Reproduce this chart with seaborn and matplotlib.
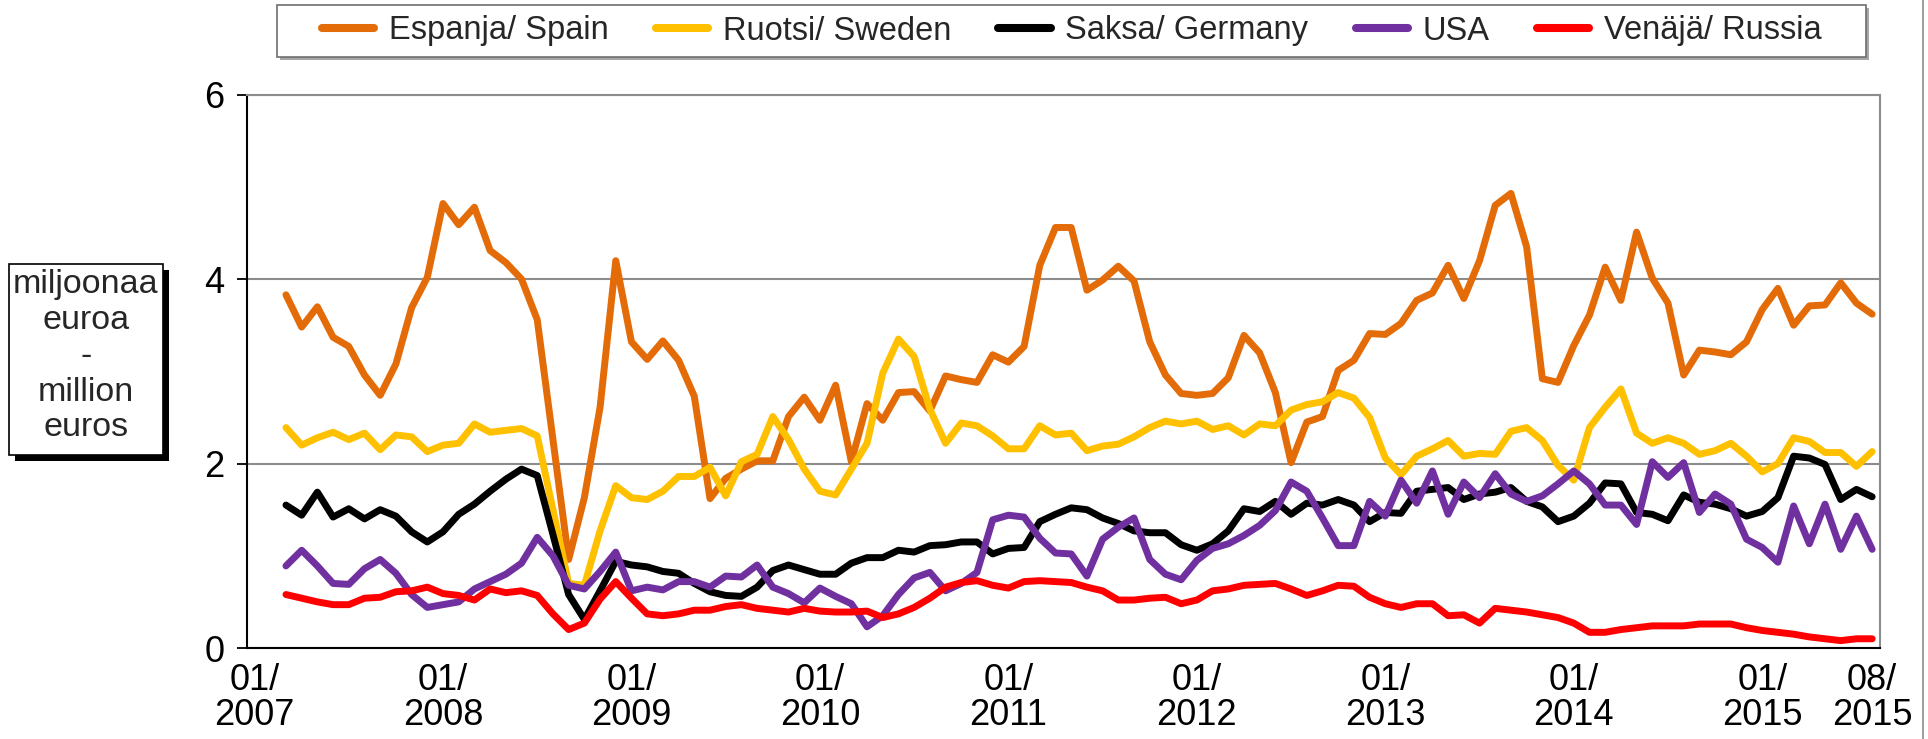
import numpy as np
import pandas as pd
import matplotlib
matplotlib.use("Agg")
import matplotlib.pyplot as plt
import seaborn as sns
from matplotlib.patches import Rectangle
from matplotlib.lines import Line2D

# ---------------- data (monthly, 03/2007 - 08/2015), million euros ----------------
start_month = "2007-03"
end_month = "2015-08"

countries = ["Espanja/ Spain", "Ruotsi/ Sweden", "Saksa/ Germany", "USA", "Venäjä/ Russia"]
colors = ["#E36C09", "#FFC000", "#000000", "#7030A0", "#FF0000"]

spain = [3.83, 3.48, 3.70, 3.37, 3.27, 2.96, 2.74, 3.08, 3.69, 4.02,
         4.82, 4.59, 4.78, 4.31, 4.18, 4.00, 3.56, 2.26, 0.96, 1.63,
         2.61, 4.20, 3.32, 3.13, 3.33, 3.12, 2.73, 1.62, 1.84, 1.94,
         2.03, 2.03, 2.51, 2.72, 2.47, 2.85, 2.02, 2.65, 2.47, 2.77,
         2.78, 2.57, 2.95, 2.91, 2.88, 3.18, 3.10, 3.27, 4.15, 4.56,
         4.56, 3.88, 3.99, 4.14, 3.98, 3.32, 2.96, 2.76, 2.74, 2.76,
         2.93, 3.39, 3.20, 2.77, 2.01, 2.45, 2.51, 3.01, 3.12, 3.41,
         3.40, 3.52, 3.77, 3.85, 4.15, 3.79, 4.20, 4.80, 4.93, 4.35,
         2.92, 2.88, 3.28, 3.61, 4.13, 3.77, 4.51, 4.01, 3.74, 2.96,
         3.23, 3.21, 3.18, 3.32, 3.67, 3.90, 3.50, 3.71, 3.72, 3.96,
         3.74, 3.62]

sweden = [2.39, 2.20, 2.28, 2.34, 2.26, 2.33, 2.15, 2.31, 2.29, 2.13,
          2.20, 2.22, 2.43, 2.34, 2.36, 2.38, 2.30, 1.50, 0.70, 0.68,
          1.27, 1.76, 1.63, 1.61, 1.70, 1.86, 1.86, 1.96, 1.65, 2.02,
          2.10, 2.51, 2.26, 1.94, 1.70, 1.66, 1.94, 2.22, 2.98, 3.35,
          3.16, 2.59, 2.22, 2.44, 2.41, 2.30, 2.16, 2.16, 2.41, 2.31,
          2.33, 2.14, 2.19, 2.21, 2.29, 2.39, 2.46, 2.43, 2.46, 2.37,
          2.41, 2.31, 2.43, 2.41, 2.58, 2.64, 2.67, 2.77, 2.71, 2.50,
          2.06, 1.88, 2.08, 2.16, 2.25, 2.08, 2.11, 2.10, 2.35, 2.39,
          2.25, 1.98, 1.82, 2.39, 2.61, 2.81, 2.33, 2.22, 2.28, 2.22,
          2.10, 2.14, 2.22, 2.08, 1.91, 2.00, 2.28, 2.24, 2.12, 2.12,
          1.97, 2.13]

germany = [1.55, 1.44, 1.69, 1.42, 1.51, 1.40, 1.50, 1.43, 1.26, 1.15,
           1.26, 1.45, 1.56, 1.70, 1.83, 1.94, 1.87, 1.23, 0.58, 0.31,
           0.62, 0.94, 0.90, 0.88, 0.83, 0.81, 0.70, 0.61, 0.57, 0.56,
           0.66, 0.84, 0.90, 0.85, 0.80, 0.80, 0.92, 0.98, 0.98, 1.06,
           1.04, 1.11, 1.12, 1.15, 1.15, 1.02, 1.08, 1.09, 1.37, 1.45,
           1.52, 1.50, 1.41, 1.35, 1.27, 1.25, 1.25, 1.12, 1.06, 1.13,
           1.27, 1.51, 1.48, 1.59, 1.45, 1.57, 1.55, 1.61, 1.55, 1.37,
           1.47, 1.46, 1.70, 1.72, 1.74, 1.61, 1.67, 1.69, 1.74, 1.59,
           1.53, 1.37, 1.43, 1.57, 1.79, 1.78, 1.47, 1.45, 1.38, 1.66,
           1.58, 1.56, 1.51, 1.43, 1.48, 1.63, 2.08, 2.06, 1.99, 1.61,
           1.72, 1.64]

usa = [0.89, 1.06, 0.89, 0.70, 0.69, 0.86, 0.96, 0.81, 0.58, 0.44,
       0.47, 0.50, 0.64, 0.72, 0.80, 0.92, 1.20, 1.00, 0.68, 0.64,
       0.83, 1.04, 0.62, 0.66, 0.63, 0.72, 0.72, 0.66, 0.78, 0.77,
       0.90, 0.66, 0.59, 0.49, 0.65, 0.56, 0.48, 0.23, 0.35, 0.58,
       0.76, 0.82, 0.62, 0.70, 0.82, 1.39, 1.44, 1.42, 1.19, 1.03,
       1.02, 0.78, 1.18, 1.31, 1.41, 0.96, 0.80, 0.74, 0.95, 1.08,
       1.13, 1.22, 1.33, 1.49, 1.80, 1.70, 1.41, 1.11, 1.11, 1.59,
       1.43, 1.82, 1.57, 1.92, 1.45, 1.80, 1.63, 1.89, 1.67, 1.59,
       1.65, 1.78, 1.92, 1.78, 1.55, 1.55, 1.34, 2.02, 1.85, 2.01,
       1.47, 1.67, 1.56, 1.18, 1.09, 0.93, 1.54, 1.13, 1.56, 1.07,
       1.43, 1.07]

russia = [0.58, 0.54, 0.50, 0.47, 0.47, 0.54, 0.55, 0.61, 0.62, 0.66,
          0.59, 0.57, 0.52, 0.64, 0.60, 0.62, 0.57, 0.37, 0.20, 0.27,
          0.53, 0.72, 0.54, 0.37, 0.35, 0.37, 0.41, 0.41, 0.45, 0.47,
          0.43, 0.41, 0.39, 0.43, 0.40, 0.39, 0.39, 0.40, 0.33, 0.37,
          0.44, 0.54, 0.66, 0.71, 0.73, 0.68, 0.65, 0.72, 0.73, 0.72,
          0.71, 0.66, 0.62, 0.52, 0.52, 0.54, 0.55, 0.48, 0.52, 0.62,
          0.64, 0.68, 0.69, 0.70, 0.64, 0.57, 0.62, 0.68, 0.67, 0.55,
          0.48, 0.44, 0.48, 0.48, 0.35, 0.36, 0.27, 0.43, 0.41, 0.39,
          0.36, 0.33, 0.27, 0.17, 0.17, 0.20, 0.22, 0.24, 0.24, 0.24,
          0.26, 0.26, 0.26, 0.22, 0.19, 0.17, 0.15, 0.12, 0.10, 0.08,
          0.10, 0.10]

tick_labels = ["01/\n2007", "01/\n2008", "01/\n2009", "01/\n2010", "01/\n2011",
               "01/\n2012", "01/\n2013", "01/\n2014", "01/\n2015", "08/\n2015"]
y_ticks = [0, 2, 4, 6]
ylabel_text = "miljoonaa\neuroa\n-\nmillion\neuros"

# ---------------- build table ----------------
periods = pd.period_range(start_month, end_month, freq="M")
base = pd.Period("2007-01", freq="M")
month_idx = np.array([(p - base).n for p in periods])

series = [spain, sweden, germany, usa, russia]
df = pd.concat([pd.DataFrame({"month": month_idx, "value": vals, "country": name})
                for name, vals in zip(countries, series)], ignore_index=True)

def label_to_idx(lbl):
    mm, yy = lbl.replace("\n", "").split("/")
    return (int(yy) - 2007) * 12 + int(mm) - 1

tick_pos = [label_to_idx(l) for l in tick_labels]

# ---------------- plot ----------------
sns.set_theme(style="white")
plt.rcParams['font.family'] = ['Liberation Sans', 'DejaVu Sans']

W, H = 1928, 739
fig = plt.figure(figsize=(W / 100, H / 100), dpi=100)
ax_l, ax_r, ax_t, ax_b = 246.7, 1880, 94.7, 648
ax = fig.add_axes([ax_l / W, 1 - ax_b / H, (ax_r - ax_l) / W, (ax_b - ax_t) / H])

sns.lineplot(data=df, x="month", y="value", hue="country", hue_order=countries,
             palette=colors, linewidth=5.0, ax=ax, legend=False, sort=False)
for ln in ax.lines:
    ln.set_solid_joinstyle("round")
    ln.set_solid_capstyle("round")

ax.set_xlim(-0.5, 103.5)
ax.set_ylim(0, 6)
ax.set_yticks(y_ticks)
ax.set_xticks(tick_pos)
ax.set_xticklabels(tick_labels)
for lbl in ax.get_xticklabels():
    lbl.set_linespacing(1.0)
ax.set_xlabel("")
ax.set_ylabel("")

ax.yaxis.grid(True, color="#8c8c8c", linewidth=1.5)
ax.xaxis.grid(False)
ax.set_axisbelow(True)
for s in ["left", "bottom"]:
    ax.spines[s].set_color("black")
    ax.spines[s].set_linewidth(1.5)
for s in ["top", "right"]:
    ax.spines[s].set_color("#8c8c8c")
    ax.spines[s].set_linewidth(1.5)

ax.tick_params(axis="y", left=True, length=7, width=1.3, color="black",
               pad=9, labelsize=26, labelcolor="black")
ax.tick_params(axis="x", bottom=False, length=0, pad=11, labelsize=26,
               labelcolor="black")

# ---------------- legend with framed box and shadow ----------------
lx0, lx1, ly0, ly1 = 277, 1866, 5, 57
fig.add_artist(Rectangle(((lx0 + 3) / W, 1 - (ly1 + 3) / H), (lx1 - lx0) / W, (ly1 - ly0) / H,
                         transform=fig.transFigure, facecolor="#a6a6a6", edgecolor="none", zorder=1))
fig.add_artist(Rectangle((lx0 / W, 1 - ly1 / H), (lx1 - lx0) / W, (ly1 - ly0) / H,
                         transform=fig.transFigure, facecolor="white", edgecolor="#6e6e6e",
                         linewidth=1.2, zorder=2))
handles = [Line2D([0], [0], color=c, linewidth=5.8, solid_capstyle="round") for c in colors]
leg = fig.legend(handles, countries, loc="center",
                 bbox_to_anchor=((lx0 + lx1) / 2 / W, 1 - (ly0 + ly1) / 2 / H),
                 ncol=5, frameon=False, fontsize=23.5, handlelength=1.6,
                 handletextpad=0.45, columnspacing=1.45)
leg.set_zorder(3)

# ---------------- y label box with shadow ----------------
bx0, bx1, by0, by1 = 9.3, 162.7, 263.5, 455
sh = 6
fig.add_artist(Rectangle(((bx0 + sh) / W, 1 - (by1 + sh) / H), (bx1 - bx0) / W, (by1 - by0) / H,
                         transform=fig.transFigure, facecolor="black", edgecolor="none", zorder=1))
fig.add_artist(Rectangle((bx0 / W, 1 - by1 / H), (bx1 - bx0) / W, (by1 - by0) / H,
                         transform=fig.transFigure, facecolor="white", edgecolor="black",
                         linewidth=1.2, zorder=2))
fig.text((bx0 + bx1) / 2 / W, 1 - (by0 + by1) / 2 / H + 0.004, ylabel_text, ha="center", va="center",
         fontsize=24.5, linespacing=1.2, zorder=3)

# right border of chart area
fig.add_artist(Line2D([1923 / W, 1923 / W], [0, 1], transform=fig.transFigure,
                      color="#8c8c8c", linewidth=1.2))

fig.savefig("out.png", dpi=100)
